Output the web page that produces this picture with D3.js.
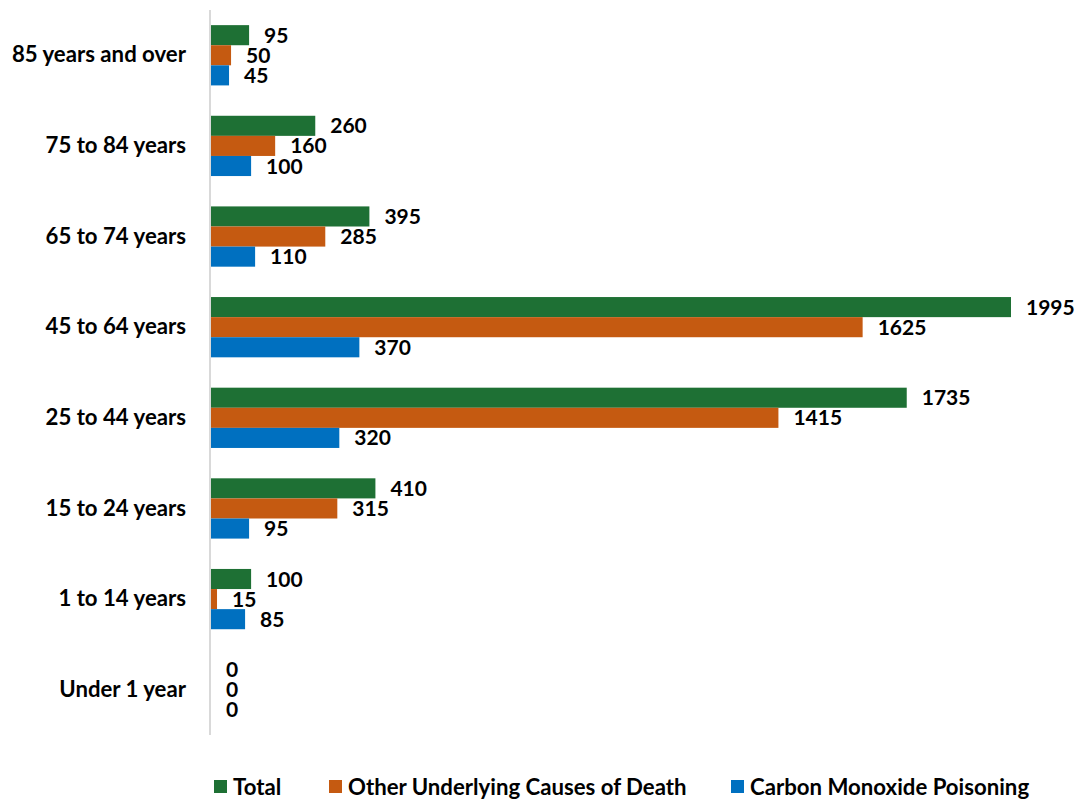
<title>CO poisoning deaths by age</title>
<script src="https://cdn.jsdelivr.net/npm/d3@7"></script>
<style>
    body { margin: 0; background: #fff; }
    text { font-family: Lato, "Open Sans", sans-serif; font-weight: bold; fill: #000; }
</style>

<svg width="1075" height="799"></svg>

<script>
    // data, top category first
    const categories = ["85 years and over", "75 to 84 years", "65 to 74 years", "45 to 64 years",
        "25 to 44 years", "15 to 24 years", "1 to 14 years", "Under 1 year"];
    const seriesNames = ["Total", "Other Underlying Causes of Death", "Carbon Monoxide Poisoning"];
    const total = [95, 260, 395, 1995, 1735, 410, 100, 0];
    const otherCauses = [50, 160, 285, 1625, 1415, 315, 15, 0];
    const coPoisoning = [45, 100, 110, 370, 320, 95, 85, 0];
    const colors = ["#1e7034", "#c55a11", "#0070c0"];

    const seriesValues = [total, otherCauses, coPoisoning];
    const rows = categories.map((c, i) => ({
        cat: c,
        vals: seriesNames.map((s, j) => ({ key: s, value: seriesValues[j][i] }))
    }));

    const svg = d3.select("svg");
    const margin = { top: 10, left: 210 };
    const plotH = 725;

    const y = d3.scaleBand()
        .domain(categories)
        .range([margin.top, margin.top + plotH])
        .paddingInner(0.335)
        .paddingOuter(0.167);

    const ySub = d3.scaleBand()
        .domain(seriesNames)
        .range([0, y.bandwidth()]);

    const x = d3.scaleLinear()
        .domain([0, 1995])
        .range([margin.left, 1010]);

    // category axis
    const yAxis = svg.append("g")
        .attr("transform", `translate(${margin.left},0)`)
        .call(d3.axisLeft(y).tickSize(0).tickPadding(24));
    yAxis.select(".domain").remove();
    yAxis.selectAll("text").style("font-size", "22.2px").attr("font-family", null);

    svg.append("line")
        .attr("x1", margin.left).attr("x2", margin.left)
        .attr("y1", margin.top).attr("y2", margin.top + plotH)
        .attr("stroke", "#d9d9d9").attr("stroke-width", 2);

    const groups = svg.selectAll(".grp")
        .data(rows)
        .join("g")
        .attr("class", "grp")
        .attr("transform", d => `translate(0,${y(d.cat)})`);

    groups.selectAll("rect")
        .data(d => d.vals)
        .join("rect")
        .attr("x", x(0) + 1)
        .attr("y", d => ySub(d.key))
        .attr("width", d => Math.max(0, x(d.value) - x(0)))
        .attr("height", ySub.bandwidth())
        .attr("fill", (d, i) => colors[i]);

    groups.selectAll(".lbl")
        .data(d => d.vals)
        .join("text")
        .attr("class", "lbl")
        .attr("x", d => x(d.value) + 16)
        .attr("y", d => ySub(d.key) + ySub.bandwidth() / 2)
        .attr("dy", "0.36em")
        .style("font-size", "21px")
        .text(d => d.value);

    // legend
    const legendX = [214, 329, 731];
    const legend = svg.selectAll(".leg")
        .data(seriesNames)
        .join("g")
        .attr("class", "leg")
        .attr("transform", (d, i) => `translate(${legendX[i]},780)`);
    legend.append("rect")
        .attr("width", 13).attr("height", 13)
        .attr("fill", (d, i) => colors[i]);
    legend.append("text")
        .attr("x", 19).attr("y", 7)
        .attr("dy", "0.36em")
        .style("font-size", "22.2px")
        .text(d => d);
</script>
